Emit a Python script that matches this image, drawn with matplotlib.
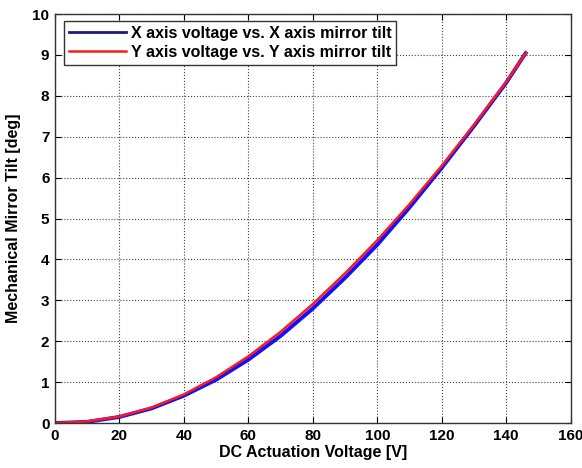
import matplotlib
matplotlib.use("Agg")
import matplotlib.pyplot as plt

plt.rcParams['font.family'] = ['Liberation Sans Narrow', 'Liberation Sans', 'DejaVu Sans']

# Data
x_volt = [0, 10, 20, 30, 40, 50, 60, 70, 80, 90, 100, 110, 120, 130, 140, 146]
x_tilt = [0, 0.03, 0.15, 0.36, 0.67, 1.06, 1.55, 2.13, 2.80, 3.55, 4.36, 5.27, 6.24, 7.26, 8.32, 9.04]
y_volt = [0, 10, 20, 30, 40, 50, 60, 70, 80, 90, 100, 110, 120, 130, 140, 146.2]
y_tilt = [0, 0.04, 0.16, 0.38, 0.70, 1.12, 1.63, 2.23, 2.91, 3.66, 4.47, 5.35, 6.29, 7.29, 8.34, 9.06]
labels = ["X axis voltage vs. X axis mirror tilt", "Y axis voltage vs. Y axis mirror tilt"]
xticks = [0, 20, 40, 60, 80, 100, 120, 140, 160]
yticks = [0, 1, 2, 3, 4, 5, 6, 7, 8, 9, 10]

fig = plt.figure(figsize=(5.82, 4.68), dpi=100)
ax = fig.add_axes([0.0945, 0.096, 0.886, 0.874])

ax.plot(x_volt, x_tilt, color='#1010ff', lw=2.8, label=labels[0])
ax.plot(y_volt, y_tilt, color='#ff1a1a', lw=1.8, label=labels[1])

ax.set_xlim(0, 160)
ax.set_ylim(0, 10)
ax.set_xticks(xticks)
ax.set_yticks(yticks)
ax.tick_params(direction='in', top=True, right=True, length=4, width=0.8,
               labelsize=11, pad=4)
for lab in ax.get_xticklabels() + ax.get_yticklabels():
    lab.set_fontweight('bold')
ax.grid(True, linestyle=':', color='#444444', linewidth=0.8)
for s in ax.spines.values():
    s.set_linewidth(1.0)
    s.set_color('#333333')

ax.set_xlabel("DC Actuation Voltage [V]", fontsize=11.5, fontweight='bold', labelpad=2)
ax.set_ylabel("Mechanical Mirror Tilt [deg]", fontsize=11.5, fontweight='bold', labelpad=8)

leg = ax.legend(loc='upper left', prop={'weight': 'bold', 'size': 11.5},
                fancybox=False, edgecolor='#333333', framealpha=1,
                handlelength=3.6, handletextpad=0.3, borderpad=0.3,
                labelspacing=0.25, bbox_to_anchor=(0.017, 0.983), borderaxespad=0)
leg.get_frame().set_linewidth(1.0)
leg.legend_handles[0].set_color('#1a1a80')
leg.legend_handles[0].set_linewidth(2.0)

fig.savefig("out.png", dpi=100)
